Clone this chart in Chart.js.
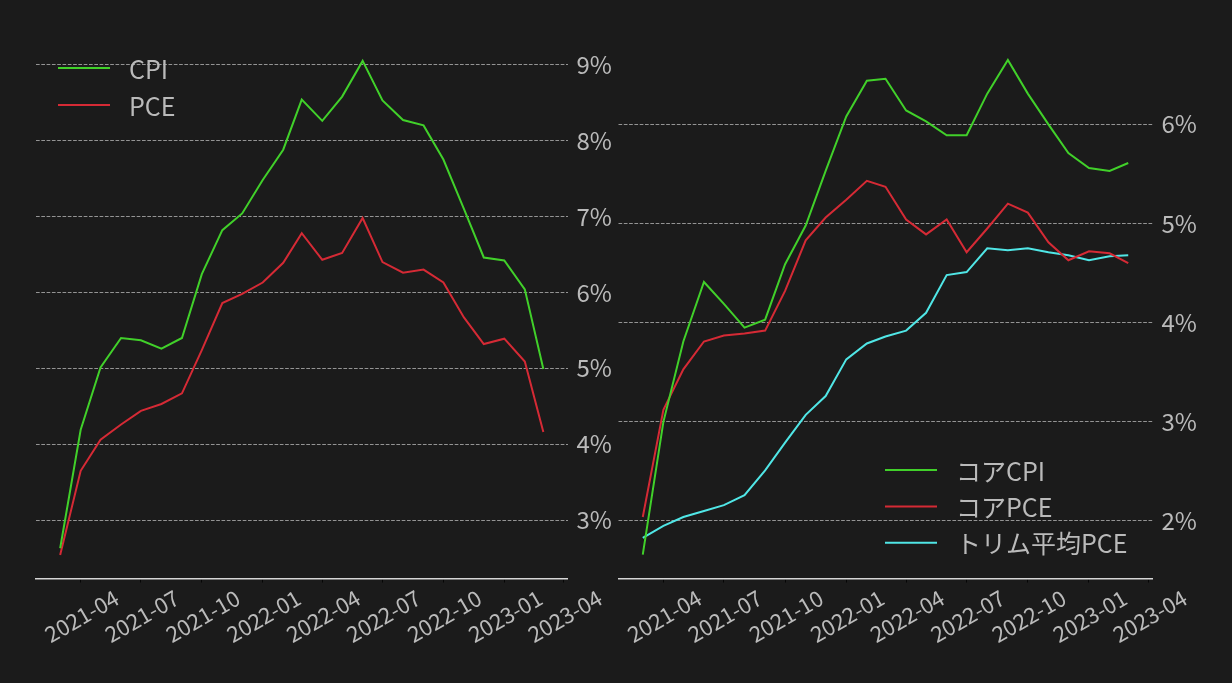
<!DOCTYPE html>
<html>
<head>
<meta charset="utf-8">
<script src="https://cdn.jsdelivr.net/npm/chart.js@4.4.1/dist/chart.umd.min.js"></script>
<style>
html, body { margin: 0; padding: 0; background: #1b1b1b; }
body { width: 1232px; height: 683px; position: relative; overflow: hidden; }
.panel { position: absolute; top: 0; height: 683px; }
#panel-left { left: 0; width: 616px; }
#panel-right { left: 584px; width: 648px; }
</style>
</head>
<body>
<div class="panel" id="panel-left"><canvas id="chart-left" width="616" height="683"></canvas></div>
<div class="panel" id="panel-right"><canvas id="chart-right" width="648" height="683"></canvas></div>
<script>
// monthly values, 2021-03 .. 2023-03
const months = [
    '2021-03', '2021-04', '2021-05', '2021-06', '2021-07', '2021-08', '2021-09', '2021-10', '2021-11', '2021-12',
    '2022-01', '2022-02', '2022-03', '2022-04', '2022-05', '2022-06', '2022-07', '2022-08', '2022-09', '2022-10',
    '2022-11', '2022-12', '2023-01', '2023-02', '2023-03',
];
const cpi = [2.63, 4.19, 5.01, 5.40, 5.37, 5.26, 5.40, 6.24, 6.82, 7.04, 7.48, 7.88, 8.54, 8.26, 8.58, 9.05, 8.53, 8.27, 8.20, 7.75, 7.10, 6.46, 6.42, 6.04, 4.99];
const pce = [2.54, 3.65, 4.06, 4.26, 4.44, 4.53, 4.67, 5.24, 5.86, 5.98, 6.13, 6.39, 6.78, 6.43, 6.52, 6.98, 6.40, 6.26, 6.30, 6.13, 5.67, 5.32, 5.39, 5.09, 4.16];
const coreCpi = [1.66, 3.00, 3.81, 4.41, 4.19, 3.95, 4.03, 4.59, 4.98, 5.53, 6.08, 6.44, 6.46, 6.14, 6.03, 5.89, 5.89, 6.31, 6.65, 6.31, 6.00, 5.71, 5.56, 5.53, 5.61];
const corePce = [2.04, 3.12, 3.53, 3.81, 3.87, 3.89, 3.92, 4.32, 4.83, 5.06, 5.24, 5.43, 5.37, 5.04, 4.89, 5.04, 4.71, 4.95, 5.20, 5.11, 4.81, 4.63, 4.72, 4.70, 4.60];
const trimmedPce = [1.83, 1.95, 2.04, 2.10, 2.16, 2.26, 2.51, 2.79, 3.07, 3.26, 3.63, 3.79, 3.86, 3.92, 4.10, 4.48, 4.51, 4.75, 4.73, 4.75, 4.71, 4.68, 4.63, 4.67, 4.68];

const xTickLabels = ['2021-04', '2021-07', '2021-10', '2022-01', '2022-04', '2022-07', '2022-10', '2023-01', '2023-04'];
const yTicksLeft = [3, 4, 5, 6, 7, 8, 9];
const yTicksRight = [2, 3, 4, 5, 6];

const GREEN = '#41d02a';
const RED = '#d52a35';
const CYAN = '#50e6e6';
const TEXT = '#bababa';
const FONT = '"Noto Sans CJK JP", "Noto Sans", sans-serif';

// days since the first month, so the x axis spaces months like a date axis
function monthDay(m) {
    const [y, mo] = m.split('-').map(Number);
    const [y0, mo0] = months[0].split('-').map(Number);
    return (Date.UTC(y, mo - 1, 1) - Date.UTC(y0, mo0 - 1, 1)) / 86400000;
}

function series(values) {
    return values.map((v, i) => ({ x: monthDay(months[i]), y: v }));
}

function xScale() {
    const first = monthDay(months[0]);
    const last = monthDay(months[months.length - 1]);
    const pad = (last - first) * 0.05;
    return {
        type: 'linear',
        min: first - pad,
        max: last + pad,
        afterBuildTicks: (s) => { s.ticks = xTickLabels.map((m) => ({ value: monthDay(m) })); },
        afterFit: (s) => { s.height = 104.5; },
        border: { display: true, color: '#d6d6d6', width: 1.5 },
        grid: { display: true, drawOnChartArea: false, drawTicks: true, tickLength: 4, color: '#050505', lineWidth: 1 },
        ticks: {
            autoSkip: false,
            minRotation: 30,
            maxRotation: 30,
            padding: 2,
            labelOffset: 36,
            color: TEXT,
            font: { family: FONT, size: 22 },
            callback: (v) => xTickLabels.find((m) => monthDay(m) === v) || '',
        },
    };
}

function yScale(min, max, ticks, width) {
    return {
        type: 'linear',
        position: 'right',
        min,
        max,
        afterBuildTicks: (s) => { s.ticks = ticks.map((v) => ({ value: v })); },
        afterFit: (s) => { s.width = width; },
        border: { display: false, dash: [3.7, 1.6] },
        grid: { color: '#b4b4b4', lineWidth: 0.8, drawTicks: false },
        ticks: {
            padding: 9,
            color: TEXT,
            font: { family: FONT, size: 24 },
            callback: (v) => `${v}%`,
        },
    };
}

function line(label, values, color) {
    return {
        label,
        data: series(values),
        borderColor: color,
        borderWidth: 2,
        pointRadius: 0,
        tension: 0,
        fill: false,
    };
}

const lineLegend = {
    id: 'lineLegend',
    afterDraw(chart, args, opts) {
        const ctx = chart.ctx;
        chart.data.datasets.forEach((ds, i) => {
            const y = opts.y + i * opts.gap;
            ctx.save();
            ctx.strokeStyle = ds.borderColor;
            ctx.lineWidth = 2;
            ctx.beginPath();
            ctx.moveTo(opts.x, y);
            ctx.lineTo(opts.x + 52, y);
            ctx.stroke();
            ctx.fillStyle = TEXT;
            ctx.font = `25px ${FONT}`;
            ctx.textBaseline = 'middle';
            ctx.fillText(ds.label, opts.x + 71, y + 1);
            ctx.restore();
        });
    },
};

function makeChart(id, datasets, yMin, yMax, yTicks, yWidth, padLeft, legendPos) {
    return new Chart(document.getElementById(id), {
        type: 'line',
        data: { datasets },
        options: {
            responsive: false,
            animation: false,
            layout: { padding: { left: padLeft, top: 37.5, right: 0, bottom: 0 } },
            plugins: { legend: { display: false }, tooltip: { enabled: false }, lineLegend: legendPos },
            scales: { x: xScale(), y: yScale(yMin, yMax, yTicks, yWidth) },
        },
        plugins: [lineLegend],
    });
}

makeChart('chart-left', [line('CPI', cpi, GREEN), line('PCE', pce, RED)],
    2.231, 9.358, yTicksLeft, 48.5, 36, { x: 58, y: 68, gap: 37 });

makeChart('chart-right', [
    line('コアCPI', coreCpi, GREEN),
    line('コアPCE', corePce, RED),
    line('トリム平均PCE', trimmedPce, CYAN),
], 1.42, 6.876, yTicksRight, 79.5, 34.5, { x: 301, y: 470, gap: 36.4 });
</script>
</body>
</html>
